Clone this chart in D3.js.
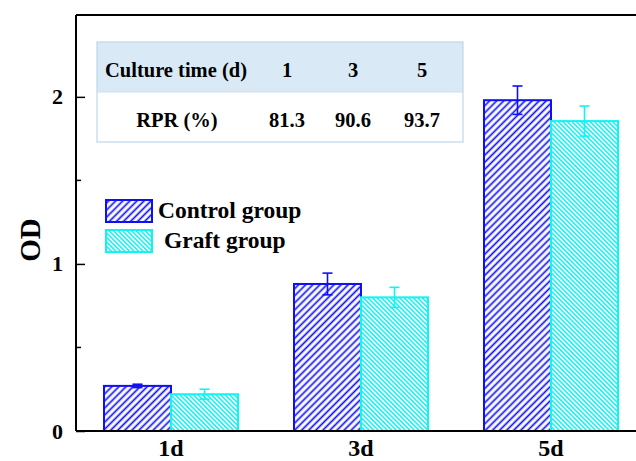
<!DOCTYPE html>
<html>
<head>
<meta charset="utf-8">
<script src="https://cdn.jsdelivr.net/npm/d3@7"></script>
<style>
  body { margin: 0; background: #fff; }
  svg { display: block; font-family: "Liberation Serif", "Times New Roman", serif; font-weight: bold; }
</style>
</head>
<body>
<script>
var days = ["1d", "3d", "5d"];
var groups = ["Control group", "Graft group"];
var controlOD = [0.27, 0.88, 1.98];
var controlErr = [0.01, 0.065, 0.085];
var graftOD = [0.22, 0.80, 1.855];
var graftErr = [0.03, 0.06, 0.09];
var yTicks = [0, 1, 2];
var yMinor = [0.5, 1.5];
var tableTimes = ["1", "3", "5"];
var rprValues = ["81.3", "90.6", "93.7"];

var w = 636;
var h = 461;
var plotLeft = 76, plotRight = 646, plotTop = 15, plotBottom = 431;

var colors = { "Control group": "#0f0ff5", "Graft group": "#10f4f4" };

var svg = d3.select("body")
    .append("svg")
    .attr("width", w)
    .attr("height", h);

var defs = svg.append("defs");

function hatch(id, color, size, dir, sw) {
    var p = defs.append("pattern")
        .attr("id", id)
        .attr("patternUnits", "userSpaceOnUse")
        .attr("width", size)
        .attr("height", size)
        .attr("patternTransform", "rotate(" + dir + ")");
    p.append("rect").attr("width", size).attr("height", size).attr("fill", "#fff");
    p.append("line")
        .attr("x1", size / 2).attr("y1", 0)
        .attr("x2", size / 2).attr("y2", size)
        .attr("stroke", color)
        .attr("stroke-width", sw);
}
hatch("hatchControl", colors["Control group"], 5, 45, 1.7);
hatch("hatchGraft", colors["Graft group"], 3.2, -45, 1.5);
var fills = { "Control group": "url(#hatchControl)", "Graft group": "url(#hatchGraft)" };

var x = d3.scalePoint().domain(days).range([plotLeft, plotRight]).padding(0.5);
var xSub = d3.scaleBand().domain(groups).range([-67, 67]);
var y = d3.scaleLinear().domain([0, 2.49]).range([plotBottom, plotTop]);

var rows = [];
days.forEach(function (d, i) {
    rows.push({ day: d, group: groups[0], v: controlOD[i], e: controlErr[i] });
    rows.push({ day: d, group: groups[1], v: graftOD[i], e: graftErr[i] });
});

// bars
svg.selectAll("rect.bar")
    .data(rows)
    .enter()
    .append("rect")
    .attr("class", "bar")
    .attr("x", function (d) { return x(d.day) + xSub(d.group); })
    .attr("y", function (d) { return y(d.v); })
    .attr("width", xSub.bandwidth())
    .attr("height", function (d) { return y(0) - y(d.v); })
    .attr("fill", function (d) { return fills[d.group]; })
    .attr("stroke", function (d) { return colors[d.group]; })
    .attr("stroke-width", 2);

// error bars
var eb = svg.selectAll("g.err")
    .data(rows)
    .enter()
    .append("g")
    .attr("stroke", function (d) { return colors[d.group]; })
    .attr("stroke-width", 1.6);
function cx(d) { return x(d.day) + xSub(d.group) + xSub.bandwidth() / 2; }
eb.append("line")
    .attr("x1", cx).attr("x2", cx)
    .attr("y1", function (d) { return y(d.v + d.e); })
    .attr("y2", function (d) { return y(d.v - d.e); });
eb.append("line")
    .attr("x1", function (d) { return cx(d) - 5; })
    .attr("x2", function (d) { return cx(d) + 5; })
    .attr("y1", function (d) { return y(d.v + d.e); })
    .attr("y2", function (d) { return y(d.v + d.e); });
eb.append("line")
    .attr("x1", function (d) { return cx(d) - 5; })
    .attr("x2", function (d) { return cx(d) + 5; })
    .attr("y1", function (d) { return y(d.v - d.e); })
    .attr("y2", function (d) { return y(d.v - d.e); });

// frame
svg.append("line").attr("x1", plotLeft).attr("x2", w).attr("y1", plotTop).attr("y2", plotTop)
    .attr("stroke", "#000").attr("stroke-width", 2);
svg.append("line").attr("x1", plotLeft).attr("x2", w).attr("y1", plotBottom).attr("y2", plotBottom)
    .attr("stroke", "#000").attr("stroke-width", 2);

// y axis
var yAxis = svg.append("g")
    .attr("transform", "translate(" + plotLeft + ",0)")
    .call(d3.axisLeft(y).tickValues(yTicks).tickFormat(d3.format("d"))
        .tickSizeInner(-9).tickSizeOuter(0).tickPadding(13));
yAxis.select(".domain").attr("stroke-width", 2).attr("d", "M0," + plotTop + "V" + plotBottom);
yAxis.selectAll(".tick line").attr("stroke-width", 1.5);
yAxis.selectAll("text")
    .attr("font-family", "Liberation Serif, serif")
    .attr("font-weight", "bold")
    .attr("font-size", 22)
    .attr("fill", "#000");

svg.append("g")
    .selectAll("line")
    .data(yMinor)
    .enter()
    .append("line")
    .attr("x1", plotLeft).attr("x2", plotLeft + 5)
    .attr("y1", function (d) { return y(d); })
    .attr("y2", function (d) { return y(d); })
    .attr("stroke", "#000").attr("stroke-width", 1.5);

// x labels
svg.selectAll("text.xlab")
    .data(days)
    .enter()
    .append("text")
    .attr("class", "xlab")
    .attr("x", function (d) { return x(d); })
    .attr("y", 456)
    .attr("text-anchor", "middle")
    .attr("font-size", 24)
    .text(function (d) { return d; });

svg.append("text")
    .attr("transform", "translate(40,240) rotate(-90)")
    .attr("text-anchor", "middle")
    .attr("font-size", 29)
    .text("OD");

// legend
var lg = svg.selectAll("g.legend")
    .data(groups)
    .enter()
    .append("g")
    .attr("transform", function (d, i) { return "translate(106," + (200 + i * 30) + ")"; });
lg.append("rect")
    .attr("width", 46).attr("height", 22)
    .attr("fill", function (d) { return fills[d]; })
    .attr("stroke", function (d) { return colors[d]; })
    .attr("stroke-width", 2);
lg.append("text")
    .attr("x", function (d, i) { return i ? 58 : 52; })
    .attr("y", 18)
    .attr("font-size", 23.5)
    .text(function (d) { return d; });

// table
var tbl = svg.append("g");
tbl.append("rect").attr("x", 97).attr("y", 42).attr("width", 366).attr("height", 50)
    .attr("fill", "#d9eaf6");
tbl.append("rect").attr("x", 97).attr("y", 42).attr("width", 366).attr("height", 100)
    .attr("fill", "none").attr("stroke", "#bcd7ec").attr("stroke-width", 1.2);
tbl.append("line").attr("x1", 97).attr("x2", 463).attr("y1", 92).attr("y2", 92)
    .attr("stroke", "#c9def0").attr("stroke-width", 1);
var colX = [287, 353, 422];
tbl.append("text").attr("x", 176).attr("y", 77).attr("text-anchor", "middle")
    .attr("font-size", 20.5).text("Culture time (d)");
tbl.append("text").attr("x", 177).attr("y", 127).attr("text-anchor", "middle")
    .attr("font-size", 20.5).text("RPR (%)");
tbl.selectAll("text.t1")
    .data(tableTimes)
    .enter()
    .append("text")
    .attr("x", function (d, i) { return colX[i]; })
    .attr("y", 77)
    .attr("text-anchor", "middle")
    .attr("font-size", 20.5)
    .text(function (d) { return d; });
tbl.selectAll("text.t2")
    .data(rprValues)
    .enter()
    .append("text")
    .attr("x", function (d, i) { return colX[i]; })
    .attr("y", 127)
    .attr("text-anchor", "middle")
    .attr("font-size", 20.5)
    .text(function (d) { return d; });
</script>
</body>
</html>
